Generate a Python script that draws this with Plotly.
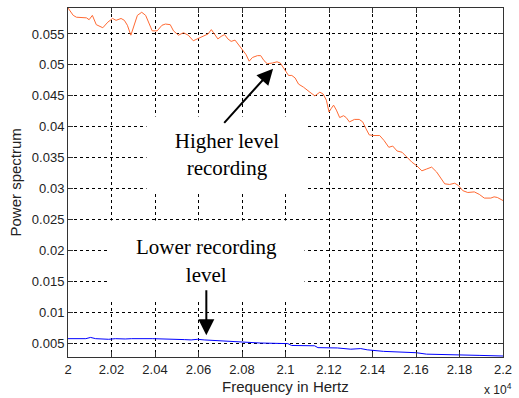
import plotly.graph_objects as go

# ---- data (frequency in units of 10^4 Hz) ----
freq_high = [2.0000, 2.0024, 2.0039, 2.0085, 2.0097, 2.0112, 2.0130, 2.0160, 2.0183, 2.0205,
             2.0221, 2.0244, 2.0259, 2.0273, 2.0289, 2.0304, 2.0319, 2.0339, 2.0357, 2.0380,
             2.0387, 2.0410, 2.0432, 2.0448, 2.0470, 2.0485, 2.0508, 2.0531, 2.0553, 2.0576,
             2.0599, 2.0621, 2.0644, 2.0659, 2.0674, 2.0689, 2.0704, 2.0720, 2.0735, 2.0750,
             2.0768, 2.0780, 2.0803, 2.0818, 2.0833, 2.0848, 2.0871, 2.0886, 2.0901, 2.0916,
             2.0939, 2.0961, 2.0976, 2.0999, 2.1014, 2.1029, 2.1044, 2.1060, 2.1083, 2.1112,
             2.1135, 2.1158, 2.1173, 2.1188, 2.1200, 2.1211, 2.1221, 2.1234, 2.1249, 2.1267,
             2.1279, 2.1294, 2.1317, 2.1339, 2.1355, 2.1370, 2.1385, 2.1407, 2.1433, 2.1453,
             2.1475, 2.1493, 2.1513, 2.1536, 2.1559, 2.1581, 2.1604, 2.1627, 2.1649, 2.1672,
             2.1695, 2.1717, 2.1732, 2.1755, 2.1778, 2.1796, 2.1815, 2.1838, 2.1868, 2.1891,
             2.1914, 2.1944, 2.1959, 2.1974, 2.2000]
power_high = [0.0592, 0.0580, 0.0577, 0.0576, 0.0573, 0.0580, 0.0565, 0.0560, 0.0569, 0.0575,
              0.0572, 0.0575, 0.0572, 0.0564, 0.0548, 0.0566, 0.0580, 0.0585, 0.0580, 0.0561,
              0.0555, 0.0555, 0.0564, 0.0566, 0.0565, 0.0555, 0.0548, 0.0552, 0.0548, 0.0539,
              0.0543, 0.0547, 0.0550, 0.0557, 0.0550, 0.0542, 0.0546, 0.0549, 0.0542, 0.0538,
              0.0540, 0.0534, 0.0524, 0.0517, 0.0506, 0.0512, 0.0515, 0.0515, 0.0507, 0.0502,
              0.0503, 0.0505, 0.0503, 0.0491, 0.0483, 0.0483, 0.0479, 0.0469, 0.0464, 0.0456,
              0.0450, 0.0456, 0.0453, 0.0443, 0.0424, 0.0430, 0.0435, 0.0427, 0.0415, 0.0418,
              0.0415, 0.0408, 0.0412, 0.0412, 0.0408, 0.0397, 0.0387, 0.0386, 0.0386, 0.0378,
              0.0367, 0.0369, 0.0361, 0.0359, 0.0351, 0.0343, 0.0337, 0.0329, 0.0332, 0.0335,
              0.0327, 0.0316, 0.0308, 0.0307, 0.0309, 0.0305, 0.0297, 0.0294, 0.0295, 0.0291,
              0.0285, 0.0285, 0.0287, 0.0286, 0.0281]

freq_low = [2.0000, 2.0082, 2.0104, 2.0127, 2.0187, 2.0218, 2.0263, 2.0293, 2.0390, 2.0444,
            2.0503, 2.0535, 2.0566, 2.0596, 2.0626, 2.0672, 2.0717, 2.0792, 2.0838, 2.0883,
            2.1011, 2.1028, 2.1134, 2.1149, 2.1239, 2.1300, 2.1346, 2.1376, 2.1451, 2.1602,
            2.1648, 2.1799, 2.1844, 2.1890, 2.2000]
power_low = [0.0058, 0.0058, 0.0060, 0.0058, 0.0057, 0.0058, 0.00575, 0.0058, 0.0058, 0.0057,
             0.0056, 0.00565, 0.0056, 0.0057, 0.0056, 0.0055, 0.0054, 0.0053, 0.0052, 0.0051,
             0.0050, 0.0047, 0.00465, 0.00435, 0.0043, 0.0041, 0.0042, 0.0040, 0.00375, 0.00353,
             0.0033, 0.0032, 0.00325, 0.0031, 0.0030]

x_ticks = [2.0, 2.02, 2.04, 2.06, 2.08, 2.1, 2.12, 2.14, 2.16, 2.18, 2.2]
x_tick_labels = ["2", "2.02", "2.04", "2.06", "2.08", "2.1", "2.12", "2.14", "2.16", "2.18", "2.2"]
y_ticks = [0.005, 0.01, 0.015, 0.02, 0.025, 0.03, 0.035, 0.04, 0.045, 0.05, 0.055]
y_tick_labels = ["0.005", "0.01", "0.015", "0.02", "0.025", "0.03", "0.035", "0.04", "0.045", "0.05", "0.055"]

x_range = [2.0, 2.2]
y_range = [0.00284, 0.05919]

label_high = "Higher level<br>recording"
label_low = "Lower recording<br>level"

fig = go.Figure()
fig.add_trace(go.Scatter(x=freq_high, y=power_high, mode="lines",
                         line=dict(color="#FF6A33", width=1), showlegend=False))
fig.add_trace(go.Scatter(x=freq_low, y=power_low, mode="lines",
                         line=dict(color="#0000FF", width=1), showlegend=False))

axis_common = dict(
    showline=True, linecolor="#333333", linewidth=1, mirror="ticks",
    ticks="inside", ticklen=5, tickcolor="#333333",
    showgrid=True, gridcolor="#000000", gridwidth=1, griddash="3px,3px",
    zeroline=False,
    tickfont=dict(family="Liberation Sans, Arial, sans-serif", size=13, color="#222222"),
)

fig.update_xaxes(range=x_range, tickmode="array", tickvals=x_ticks, ticktext=x_tick_labels,
                 **axis_common)
fig.update_yaxes(range=y_range, tickmode="array", tickvals=y_ticks, ticktext=y_tick_labels,
                 **axis_common)

serif = dict(family="Liberation Serif, Times New Roman, serif", size=21, color="#000000")
sans = dict(family="Liberation Sans, Arial, sans-serif", size=15, color="#222222")

annotations = [
    dict(text=label_high, x=2.073, y=0.0356, xref="x", yref="y", showarrow=False,
         width=158, height=73, bgcolor="white", font=serif, xanchor="center", yanchor="middle"),
    dict(text=label_low, x=2.0637, y=0.0183, xref="x", yref="y", showarrow=False,
         width=193, height=78, bgcolor="white", font=serif, xanchor="center", yanchor="middle"),
    dict(text="", x=2.0943, y=0.0494, xref="x", yref="y", ax=2.0712, ay=0.0404,
         axref="x", ayref="y", showarrow=True, arrowhead=2, arrowsize=1.6, arrowwidth=2,
         arrowcolor="#000000"),
    dict(text="", x=2.0636, y=0.00634, xref="x", yref="y", ax=2.0636, ay=0.01387,
         axref="x", ayref="y", showarrow=True, arrowhead=2, arrowsize=1.6, arrowwidth=2,
         arrowcolor="#000000"),
    dict(text="Power spectrum", x=0, y=0.5, xref="paper", yref="paper", xshift=-53,
         textangle=-90, showarrow=False, font=sans, xanchor="center", yanchor="middle"),
    dict(text="Frequency in Hertz", x=0.5, y=0, xref="paper", yref="paper", yshift=-29,
         showarrow=False, font=sans, xanchor="center", yanchor="middle"),
    dict(text="x 10<sup>4</sup>", x=1, y=0, xref="paper", yref="paper", xshift=11, yshift=-32,
         showarrow=False, font=dict(family="Liberation Sans, Arial, sans-serif", size=12,
                                    color="#222222"),
         xanchor="right", yanchor="middle"),
]

fig.update_layout(
    width=519, height=398,
    margin=dict(l=68, r=10, t=7, b=41),
    paper_bgcolor="white", plot_bgcolor="white",
    annotations=annotations,
    showlegend=False,
)

fig.write_html("out.html")
